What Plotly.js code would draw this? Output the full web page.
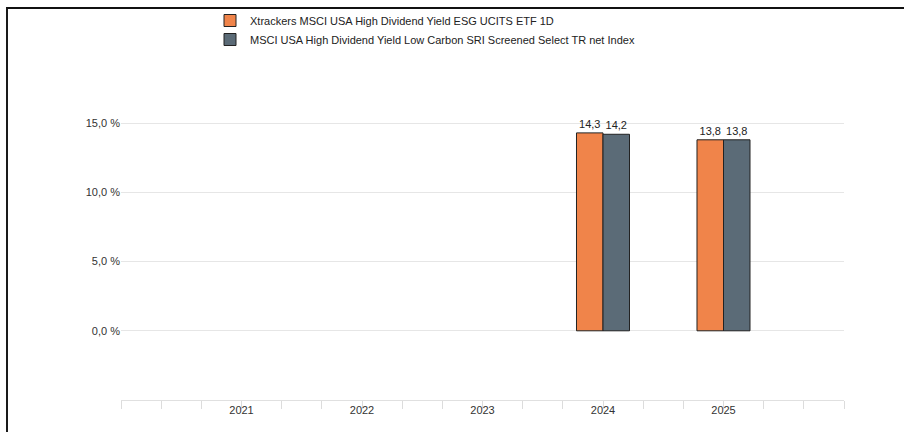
<!DOCTYPE html>
<html>
<head>
<meta charset="utf-8">
<script src="https://cdn.plot.ly/plotly-3.0.1.min.js"></script>
<style>
  html, body { margin: 0; padding: 0; background: #fff; }
  #wrap { position: relative; width: 904px; height: 432px; overflow: hidden; }
  #chart { position: absolute; left: 0; top: 0; width: 904px; height: 432px; }
  #frame { position: absolute; left: 6px; top: 7px; width: 910px; height: 440px;
           border-left: 2px solid #1a1a1a; border-top: 2px solid #111; pointer-events: none; }
</style>
</head>
<body>
<div id="wrap">
  <div id="chart"></div>
  <div id="frame"></div>
</div>
<script>
const years = [2021, 2022, 2023, 2024, 2025];
const yearLabels = ['2021', '2022', '2023', '2024', '2025'];
const seriesNames = [
  'Xtrackers MSCI USA High Dividend Yield ESG UCITS ETF 1D',
  'MSCI USA High Dividend Yield Low Carbon SRI Screened Select TR net Index'
];
const fundValues = [null, null, null, 14.3, 13.8];
const indexValues = [null, null, null, 14.2, 13.8];
const yTickVals = [0, 5, 10, 15, 20];
const yTickText = ['0,0 %', '5,0 %', '10,0 %', '15,0 %', ''];
const colors = ['#F0844A', '#5B6B77'];

function fmt(v) { return v == null ? '' : v.toFixed(1).replace('.', ','); }

const font = { family: '"Liberation Sans", Arial, Helvetica, sans-serif', size: 11, color: '#333' };

const traces = [fundValues, indexValues].map((vals, i) => ({
  type: 'bar',
  name: seriesNames[i],
  x: years,
  y: vals,
  text: vals.map(fmt),
  textposition: 'outside',
  textfont: { family: font.family, size: 11, color: '#222' },
  constraintext: 'none',
  cliponaxis: false,
  marker: { color: colors[i], line: { color: '#222', width: 1 } },
  hoverinfo: 'skip'
}));

const layout = {
  width: 904, height: 432,
  margin: { l: 121, r: 60, t: 54, b: 32, autoexpand: false },
  paper_bgcolor: '#fff', plot_bgcolor: '#fff',
  font: font,
  barmode: 'group', bargap: 0.56, bargroupgap: 0,
  showlegend: true,
  legend: {
    orientation: 'v', xref: 'container', yref: 'container',
    x: 210 / 904, y: 1 - 6 / 432, xanchor: 'left', yanchor: 'top',
    font: { family: font.family, size: 11, color: '#222' },
    traceorder: 'normal', bgcolor: 'rgba(0,0,0,0)'
  },
  xaxis: {
    range: [2020, 2026], tickmode: 'array', tickvals: years, ticktext: yearLabels,
    ticks: '', showgrid: false, zeroline: false,
    showline: true, linecolor: '#e0e0e0', linewidth: 1,
    minor: { tickmode: 'linear', tick0: 2020, dtick: 1 / 3, ticks: 'outside', ticklen: 8, tickcolor: '#dcdcdc', tickwidth: 1, showgrid: false },
    tickfont: { family: font.family, size: 11, color: '#333' },
    automargin: false,
    fixedrange: true
  },
  yaxis: {
    range: [-5, 20], tickmode: 'array', tickvals: yTickVals, ticktext: yTickText,
    showgrid: true, gridcolor: '#e6e6e6', gridwidth: 1, zeroline: false,
    ticks: '', showline: false,
    tickfont: { family: font.family, size: 11, color: '#333' },
    automargin: false,
    fixedrange: true
  }
};

Plotly.newPlot('chart', traces, layout, { displayModeBar: false, staticPlot: true });
</script>
</body>
</html>
